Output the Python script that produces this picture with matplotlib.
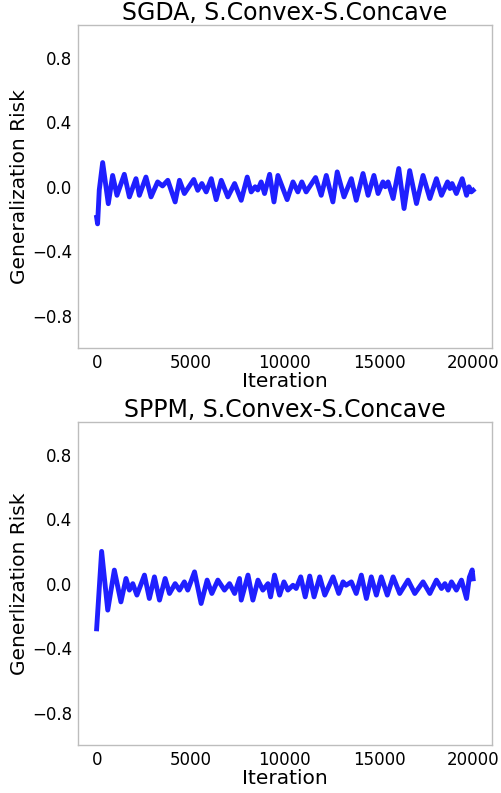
import matplotlib
matplotlib.use("Agg")
import matplotlib.pyplot as plt

# SGDA curve (iteration, generalization risk)
sgda_iter = [0, 50, 140, 320, 620, 850, 1080, 1470, 1740, 2090, 2270, 2620, 2890,
             3240, 3500, 3780, 4170, 4400, 4660, 5160, 5370, 5590, 5820, 6090, 6350,
             6620, 6970, 7330, 7680, 8000, 8210, 8420, 8560, 8740, 8920, 9190, 9420,
             9630, 10120, 10430, 10690, 10900, 11130, 11630, 11930, 12200, 12550,
             12780, 13140, 13530, 13790, 14150, 14420, 14730, 14950, 15210, 15330,
             15480, 15750, 16050, 16330, 16630, 16990, 17340, 17700, 18050, 18320,
             18640, 18770, 18880, 19110, 19420, 19650, 19780, 19900, 20000]
sgda_risk = [-0.19, -0.23, -0.02, 0.15, -0.105, 0.07, -0.053, 0.077, -0.063, 0.05,
             -0.053, 0.06, -0.063, 0.03, 0.005, 0.04, -0.094, 0.04, -0.042, 0.045,
             -0.022, 0.02, -0.032, 0.05, -0.08, 0.04, -0.063, 0.02, -0.084, 0.06,
             -0.032, 0.0, -0.02, 0.03, -0.042, 0.077, -0.094, 0.07, -0.08, 0.03,
             -0.032, 0.03, -0.032, 0.057, -0.053, 0.07, -0.094, 0.092, -0.063, 0.05,
             -0.084, 0.082, -0.053, 0.07, -0.042, 0.03, 0.0, 0.03, -0.073, 0.113,
             -0.135, 0.10, -0.104, 0.07, -0.073, 0.05, -0.053, 0.03, -0.011, 0.02,
             -0.042, 0.05, -0.053, 0.0, -0.032, -0.022]

# SPPM curve
sppm_iter = [0, 265, 590, 940, 1290, 1560, 1740, 1920, 2140, 2540, 2800, 3070, 3340,
             3640, 3870, 4170, 4400, 4660, 4840, 5200, 5550, 5870, 6120, 6440, 6790,
             7060, 7330, 7590, 7680, 8040, 8300, 8570, 8830, 9100, 9240, 9450, 9720,
             9950, 10160, 10430, 10600, 10840, 11080, 11320, 11550, 11850, 12120,
             12560, 12860, 13090, 13250, 13530, 13790, 14060, 14330, 14590, 14860,
             15120, 15440, 15750, 16100, 16540, 16900, 17340, 17700, 18050, 18320,
             18500, 18670, 18850, 19110, 19380, 19650, 19800, 19950, 20000]
sppm_risk = [-0.28, 0.20, -0.164, 0.084, -0.113, 0.032, -0.04, 0.0, -0.071, 0.053,
             -0.092, 0.042, -0.102, 0.032, -0.061, 0.0, -0.04, 0.011, -0.04, 0.073,
             -0.123, 0.022, -0.061, 0.022, -0.04, 0.0, -0.061, 0.032, -0.102, 0.053,
             -0.102, 0.022, -0.04, 0.0, -0.082, 0.053, -0.071, 0.011, -0.04, -0.01,
             -0.03, 0.042, -0.082, 0.047, -0.082, 0.042, -0.071, 0.042, -0.061, 0.011,
             -0.01, 0.011, -0.061, 0.053, -0.092, 0.042, -0.071, 0.042, -0.071, 0.042,
             -0.061, 0.022, -0.061, 0.011, -0.061, 0.022, -0.03, 0.0, -0.04, 0.011,
             -0.04, 0.022, -0.092, 0.04, 0.085, 0.03]

titles = ["SGDA, S.Convex-S.Concave", "SPPM, S.Convex-S.Concave"]
ylabels = ["Generalization Risk", "Generlization Risk"]
yticks = [-0.8, -0.4, 0.0, 0.4, 0.8]
xticks = [0, 5000, 10000, 15000, 20000]

fig = plt.figure(figsize=(5.02, 7.93), dpi=100)
ax1 = fig.add_axes([0.155, 0.561, 0.825, 0.407])
ax2 = fig.add_axes([0.155, 0.0605, 0.825, 0.407])

for ax, xs, ys, title, ylab in zip([ax1, ax2], [sgda_iter, sppm_iter],
                                   [sgda_risk, sppm_risk], titles, ylabels):
    ax.plot(xs, ys, color="#1f1fff", linewidth=3.5, solid_joinstyle="round")
    ax.set_xlim(-1000, 21000)
    ax.set_ylim(-1, 1)
    ax.set_yticks(yticks)
    ax.set_xticks(xticks)
    ax.tick_params(length=0, labelsize=12, pad=4)
    ax.set_title(title, fontsize=17, pad=3)
    ax.set_xlabel("Iteration", fontsize=14.5, labelpad=0)
    ax.set_ylabel(ylab, fontsize=14.5, labelpad=2)
    for sp in ax.spines.values():
        sp.set_color("#bdbdbd")
        sp.set_linewidth(1.0)

fig.savefig("out.png", dpi=100)
